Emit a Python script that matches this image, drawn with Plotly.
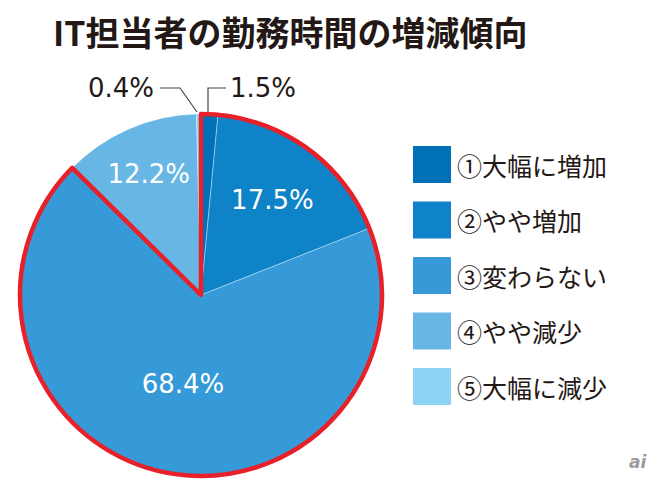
import plotly.graph_objects as go

title = "IT担当者の勤務時間の増減傾向"
categories = ["①大幅に増加", "②やや増加", "③変わらない", "④やや減少", "⑤大幅に減少"]
values = [1.5, 17.5, 68.4, 12.2, 0.4]
colors = ["#0070B9", "#0E83C8", "#359AD7", "#67B6E4", "#8DD3F5"]

W, H = 658, 483
OFF = 8  # the page body has an 8px margin, so the figure is shifted by that much
FW, FH = W - OFF, H - OFF
RED = "#E8202A"
TXT = "#231815"
JP = "Noto Sans CJK JP"
NUM = "DejaVu Sans"


def px(x):
    return (x - OFF) / FW


def py(y):
    return 1 - (y - OFF) / FH


# pie geometry (pixels in the reference picture)
cx, cy, r = 201, 295, 181
dom_x = [px(cx - r), px(cx + r)]
dom_y = [py(cy + r), py(cy - r)]

# only the larger slices get labels inside
inside = [v >= 5 for v in values]
tmpl = ["%{value:.1f}%" if ok else "" for ok in inside]

fig = go.Figure()
fig.add_trace(go.Pie(
    labels=categories,
    values=values,
    sort=False,
    direction="clockwise",
    rotation=0,
    marker=dict(colors=colors, line=dict(color="rgba(255,255,255,0.45)", width=0.8)),
    texttemplate=tmpl,
    textposition="inside",
    insidetextorientation="horizontal",
    textfont=dict(family=NUM, size=26, color="white"),
    domain=dict(x=dom_x, y=dom_y),
    showlegend=False,
    hoverinfo="label+value",
))

# red outline round the "increase / no change" group (①〜③)
grp = [sum(values[:3]), sum(values[3:])]
fig.add_trace(go.Pie(
    values=grp,
    sort=False,
    direction="clockwise",
    rotation=0,
    marker=dict(colors=["rgba(0,0,0,0)", "rgba(0,0,0,0)"],
                line=dict(color=[RED, "rgba(0,0,0,0)"], width=[4.5, 0])),
    textinfo="none",
    domain=dict(x=dom_x, y=dom_y),
    showlegend=False,
    hoverinfo="skip",
))

annotations = []
shapes = []

# outside labels for the two tiny slices, with leader lines
annotations.append(dict(x=px(156), y=py(88), xref="paper", yref="paper",
                        text="%.1f%%" % values[4], showarrow=False,
                        xanchor="right", yanchor="middle",
                        font=dict(family=NUM, size=26, color=TXT)))
shapes.append(dict(type="path", xref="paper", yref="paper",
                   path="M %f %f L %f %f L %f %f" % (px(160), py(88), px(180), py(88), px(197), py(112)),
                   line=dict(color="#444444", width=1.2)))
annotations.append(dict(x=px(228), y=py(88), xref="paper", yref="paper",
                        text="%.1f%%" % values[0], showarrow=False,
                        xanchor="left", yanchor="middle",
                        font=dict(family=NUM, size=26, color=TXT)))
shapes.append(dict(type="path", xref="paper", yref="paper",
                   path="M %f %f L %f %f L %f %f" % (px(208), py(112), px(208), py(88), px(226), py(88)),
                   line=dict(color="#444444", width=1.2)))

# legend drawn by hand (big square swatches)
for i, (name, col) in enumerate(zip(categories, colors)):
    top = 146 + i * 55.5
    shapes.append(dict(type="rect", xref="paper", yref="paper",
                       x0=px(413), x1=px(451), y0=py(top + 37), y1=py(top),
                       fillcolor=col, line=dict(width=0)))
    annotations.append(dict(x=px(455), y=py(top + 18.5), xref="paper", yref="paper",
                            text=name, showarrow=False, xanchor="left", yanchor="middle",
                            font=dict(family=JP, size=25, color=TXT)))

annotations.append(dict(x=px(649), y=py(462), xref="paper", yref="paper",
                        text="<b><i>ai</i></b>", showarrow=False,
                        xanchor="right", yanchor="middle",
                        font=dict(family="DejaVu Sans", size=17, color="#9a9a9a")))

fig.update_layout(
    width=FW, height=FH,
    margin=dict(l=0, r=0, t=0, b=0),
    paper_bgcolor="white",
    plot_bgcolor="white",
    title=dict(text="<b>" + title + "</b>", x=px(53), y=py(34),
               xanchor="left", yanchor="middle",
               font=dict(family=JP, size=34, color=TXT)),
    annotations=annotations,
    shapes=shapes,
)

fig.write_html("out.html")
